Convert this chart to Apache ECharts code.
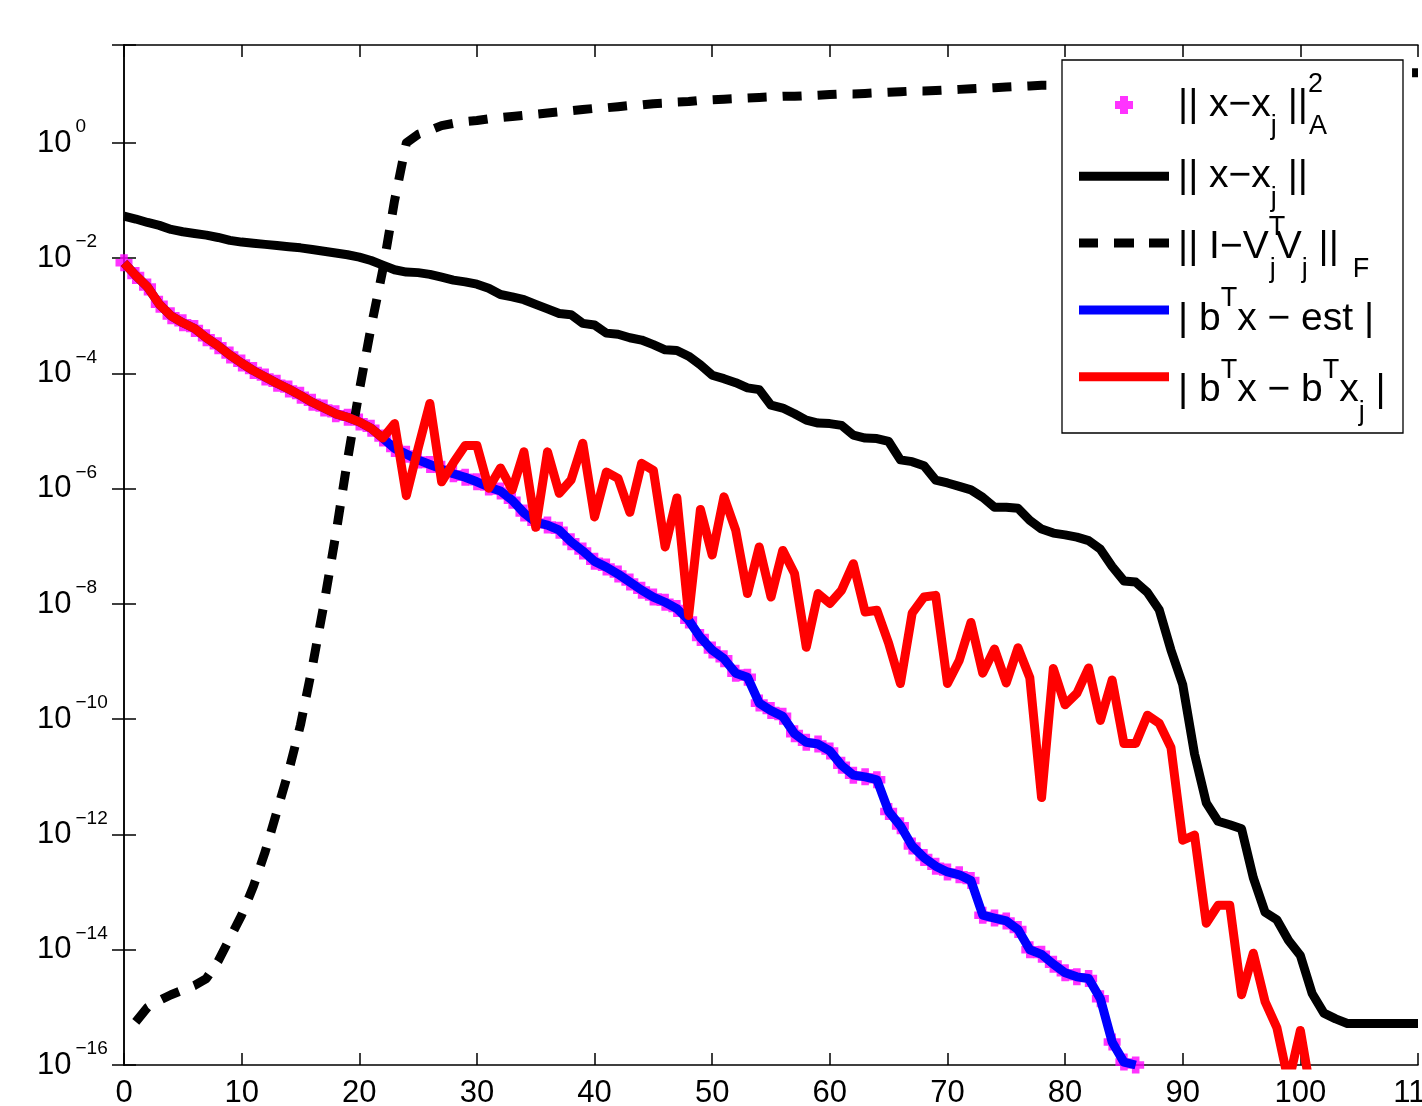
<!DOCTYPE html>
<html><head><meta charset="utf-8">
<script src="https://cdn.jsdelivr.net/npm/echarts@6/dist/echarts.min.js"></script>
<style>html,body{margin:0;padding:0;background:#fff}#c{width:1422px;height:1106px}</style>
</head><body><div id="c"></div>
<script>
// ---- data (log10 of the plotted quantities) ----
// iteration j for each array starts at the given start value
const redStart = 0;   // | b^T x - b^T x_j |
const redLog10 = [-2.08,-2.3,-2.5,-2.8,-3.0,-3.12,-3.22,-3.38,-3.52,-3.68,-3.82,-3.95,-4.06,-4.17,-4.27,-4.38,-4.5,-4.6,-4.7,-4.76,-4.84,-4.95,-5.12,-4.87,-6.12,-5.3,-4.52,-5.88,-5.55,-5.25,-5.25,-5.99,-5.64,-6.02,-5.36,-6.67,-5.36,-6.08,-5.85,-5.21,-6.49,-5.71,-5.82,-6.41,-5.56,-5.68,-7.01,-6.16,-8.2,-6.36,-7.15,-6.14,-6.72,-7.82,-7.01,-7.88,-7.07,-7.47,-8.75,-7.82,-7.99,-7.76,-7.3,-8.14,-8.11,-8.68,-9.38,-8.16,-7.88,-7.85,-9.38,-8.98,-8.32,-9.2,-8.78,-9.37,-8.76,-9.28,-11.36,-9.12,-9.75,-9.55,-9.11,-10.02,-9.32,-10.42,-10.42,-9.93,-10.07,-10.49,-12.1,-12.01,-13.54,-13.23,-13.23,-14.78,-14.06,-14.9,-15.35,-16.3,-15.4,-16.6];
const blueStart = 0;  // | b^T x - est |
const blueLog10 = [-2.08,-2.3,-2.5,-2.8,-3.0,-3.12,-3.22,-3.38,-3.52,-3.68,-3.82,-3.95,-4.06,-4.17,-4.27,-4.38,-4.5,-4.6,-4.7,-4.76,-4.84,-4.95,-5.12,-5.3,-5.4,-5.5,-5.58,-5.66,-5.74,-5.8,-5.88,-5.97,-6.04,-6.2,-6.42,-6.58,-6.63,-6.72,-6.92,-7.08,-7.26,-7.36,-7.48,-7.62,-7.76,-7.88,-7.97,-8.08,-8.28,-8.58,-8.8,-8.95,-9.2,-9.27,-9.72,-9.85,-9.95,-10.25,-10.4,-10.43,-10.55,-10.8,-10.97,-11.0,-11.05,-11.6,-11.85,-12.2,-12.4,-12.55,-12.65,-12.7,-12.8,-13.4,-13.45,-13.5,-13.65,-14.0,-14.08,-14.25,-14.4,-14.47,-14.5,-14.85,-15.6,-15.95,-16.0];
const anormStart = 0; // || x - x_j ||_A^2 (markers)
const anormLog10 = [-2.08,-2.3,-2.5,-2.8,-3.0,-3.12,-3.22,-3.38,-3.52,-3.68,-3.82,-3.95,-4.06,-4.17,-4.27,-4.38,-4.5,-4.6,-4.7,-4.76,-4.84,-4.95,-5.12,-5.3,-5.4,-5.5,-5.58,-5.66,-5.74,-5.8,-5.88,-5.97,-6.04,-6.2,-6.42,-6.58,-6.63,-6.72,-6.92,-7.08,-7.26,-7.36,-7.48,-7.62,-7.76,-7.88,-7.97,-8.08,-8.28,-8.58,-8.8,-8.95,-9.2,-9.27,-9.72,-9.85,-9.95,-10.25,-10.4,-10.43,-10.55,-10.8,-10.97,-11.0,-11.05,-11.6,-11.85,-12.2,-12.4,-12.55,-12.65,-12.7,-12.8,-13.4,-13.45,-13.5,-13.65,-14.0,-14.08,-14.25,-14.4,-14.47,-14.5,-14.85,-15.6,-15.95,-16.0];
const errStart = 0;   // || x - x_j ||
const errLog10 = [-1.27,-1.32,-1.38,-1.43,-1.5,-1.54,-1.57,-1.6,-1.64,-1.69,-1.72,-1.74,-1.76,-1.78,-1.8,-1.82,-1.85,-1.88,-1.91,-1.94,-1.98,-2.04,-2.12,-2.2,-2.24,-2.25,-2.28,-2.33,-2.38,-2.41,-2.45,-2.52,-2.63,-2.67,-2.72,-2.8,-2.88,-2.96,-2.98,-3.13,-3.16,-3.3,-3.32,-3.38,-3.42,-3.5,-3.59,-3.6,-3.7,-3.85,-4.03,-4.09,-4.16,-4.25,-4.28,-4.55,-4.6,-4.7,-4.81,-4.86,-4.87,-4.9,-5.07,-5.12,-5.13,-5.18,-5.5,-5.53,-5.6,-5.85,-5.9,-5.96,-6.02,-6.15,-6.32,-6.32,-6.34,-6.55,-6.7,-6.77,-6.8,-6.84,-6.9,-7.05,-7.35,-7.6,-7.62,-7.8,-8.1,-8.8,-9.4,-10.6,-11.45,-11.77,-11.83,-11.9,-12.75,-13.35,-13.48,-13.84,-14.1,-14.76,-15.1,-15.2,-15.28,-15.28,-15.28,-15.28,-15.28,-15.28,-15.28];
const orthStart = 1;  // || I - V_j^T V_j ||_F
const orthLog10 = [-15.25,-15.0,-14.88,-14.78,-14.7,-14.62,-14.5,-14.2,-13.8,-13.4,-12.9,-12.3,-11.6,-10.9,-10.1,-9.1,-8.0,-6.8,-5.5,-4.3,-3.2,-2.2,-1.0,0.0,0.15,0.22,0.3,0.34,0.37,0.39,0.42,0.44,0.46,0.48,0.5,0.52,0.54,0.56,0.58,0.6,0.61,0.63,0.65,0.66,0.68,0.69,0.71,0.72,0.74,0.75,0.76,0.77,0.78,0.79,0.8,0.81,0.81,0.82,0.83,0.84,0.85,0.85,0.86,0.87,0.88,0.89,0.9,0.9,0.91,0.92,0.93,0.94,0.95,0.96,0.97,0.98,0.99,1.0,1.0,1.01,1.02,1.03,1.04,1.05,1.06,1.06,1.07,1.08,1.09,1.1,1.1,1.11,1.12,1.13,1.13,1.14,1.15,1.15,1.16,1.17,1.17,1.18,1.18,1.19,1.2,1.2,1.21,1.21,1.22,1.22];

const seriesNames = ['|| x\u2212x_j ||_A^2', '|| x\u2212x_j ||', '|| I\u2212V_j^T V_j ||_F', '| b^T x \u2212 est |', '| b^T x \u2212 b^T x_j |'];
const seriesColors = ['#ff00ff', '#000000', '#000000', '#0000ff', '#ff0000'];
// rich-text forms of the legend labels (same order as seriesNames)
const legendRich = [
  '{m||| x\u2212x}{sb|j}{m| ||}{spw|2}{sb|A}',
  '{m||| x\u2212x}{sb|j}{m| ||}',
  '{m||| I\u2212V}{spw|T}{sb|j}{m|V}{sb|j}{m| ||}{sbF|F}',
  '{m|| b}{sp|T}{m|x \u2212 est |}',
  '{m|| b}{sp|T}{m|x \u2212 b}{sp|T}{m|x}{sb|j}{m| |}'
];
const yTickExponents = [-16,-14,-12,-10,-8,-6,-4,-2,0];
const xRange = [0, 110];
const xTickStep = 10;
const yRange = [1e-16, Math.pow(10, 1.7)];

// ---- helpers ----
function toPairs(start, logs) { return logs.map((v, i) => [start + i, Math.pow(10, v)]); }

const FONT = 'Liberation Sans';
const plusPath = 'path://M5,0h8v5h5v8h-5v5h-8v-5h-5v-8h5z';
const solidIcon = 'path://M0,0h90v9h-90z';
const dashIcon = 'path://M0,0h19v9h-19zM35,0h20v9h-20zM70,0h20v9h-20z';
const legendIcons = [plusPath, solidIcon, dashIcon, solidIcon, solidIcon];

// legend geometry
const LEG = {boxX: 1062, boxY: 60, boxW: 341, boxH: 373, iconX: 1079, firstRowY: 105, rowStep: 71.3, textX: 1178};

const richStyles = {
  m: {fontFamily: FONT, fontSize: 39, lineHeight: 71, verticalAlign: 'middle', fill: '#000'},
  sb: {fontFamily: FONT, fontSize: 27, verticalAlign: 'bottom', fill: '#000'},
  sbF: {fontFamily: FONT, fontSize: 27, verticalAlign: 'bottom', padding: [0, 0, 0, 14], fill: '#000'},
  sp: {fontFamily: FONT, fontSize: 27, verticalAlign: 'top', padding: [2, 0, 0, 0], fill: '#000'},
  spw: {fontFamily: FONT, fontSize: 27, verticalAlign: 'top', padding: [2, 0, 0, 0], width: 1, fill: '#000'}
};

const graphicEls = [{
  type: 'rect', z: 8, silent: true,
  shape: {x: LEG.boxX, y: LEG.boxY, width: LEG.boxW, height: LEG.boxH},
  style: {fill: '#fff', stroke: '#000', lineWidth: 1.3}
}];
legendRich.forEach(function (txt, i) {
  graphicEls.push({
    type: 'text', z: 9, silent: true,
    x: LEG.textX, y: LEG.firstRowY + i * LEG.rowStep,
    style: {text: txt, rich: richStyles, fontFamily: FONT, fontSize: 39, fill: '#000', align: 'left', verticalAlign: 'middle'}
  });
});

const chart = echarts.init(document.getElementById('c'), null, {renderer: 'canvas'});

const axisLineStyle = {color: '#000', width: 1.5};
const option = {
  animation: false,
  backgroundColor: '#fff',
  grid: {left: 124, right: 4, top: 45, bottom: 41, containLabel: false, outerBoundsMode: 'none'},
  xAxis: [
    {type: 'value', min: xRange[0], max: xRange[1], interval: xTickStep, position: 'bottom',
     axisLine: {show: true, lineStyle: axisLineStyle},
     axisTick: {show: true, inside: true, length: 12, lineStyle: axisLineStyle},
     axisLabel: {show: true, color: '#000', fontFamily: FONT, fontSize: 31, margin: 13, hideOverlap: false},
     splitLine: {show: false}},
    {type: 'value', min: xRange[0], max: xRange[1], interval: xTickStep, position: 'top',
     axisLine: {show: true, lineStyle: axisLineStyle},
     axisTick: {show: true, inside: true, length: 12, lineStyle: axisLineStyle},
     axisLabel: {show: false}, splitLine: {show: false}}
  ],
  yAxis: [
    {type: 'log', logBase: 100, min: yRange[0], max: yRange[1], position: 'left',
     axisLine: {show: true, lineStyle: axisLineStyle},
     axisTick: {show: true, inside: true, length: 12, lineStyle: axisLineStyle},
     minorTick: {show: false}, splitLine: {show: false},
     axisLabel: {
       show: true, align: 'left', margin: 87, color: '#000', fontFamily: FONT,
       formatter: function (v) {
         const e = Math.log10(v), r = Math.round(e);
         if (Math.abs(e - r) > 1e-6 || yTickExponents.indexOf(r) < 0) return '';
         return '{b|10}{e|' + (r < 0 ? '\u2212' + (-r) : String(r)) + '}';
       },
       rich: {
         b: {fontFamily: FONT, fontSize: 31, lineHeight: 51, verticalAlign: 'middle', color: '#000'},
         e: {fontFamily: FONT, fontSize: 19, verticalAlign: 'top', padding: [0, 0, 0, 4], color: '#000'}
       }
     }},
    {type: 'log', logBase: 100, min: yRange[0], max: yRange[1], position: 'right',
     axisLine: {show: true, lineStyle: axisLineStyle},
     axisTick: {show: true, inside: true, length: 12, lineStyle: axisLineStyle},
     axisLabel: {show: false}, splitLine: {show: false}, minorTick: {show: false}}
  ],
  graphic: graphicEls,
  legend: {
    orient: 'vertical', left: LEG.iconX, top: LEG.firstRowY - 9, z: 10,
    padding: 0, itemWidth: 90, itemHeight: 18, itemGap: LEG.rowStep - 18,
    selectedMode: false, symbolKeepAspect: true,
    itemStyle: {borderWidth: 0},
    formatter: function () { return ''; },
    textStyle: {fontSize: 1, color: '#000'},
    data: seriesNames.map(function (n, i) {
      return {name: n, icon: legendIcons[i], itemStyle: {color: seriesColors[i], borderWidth: 0}, symbolKeepAspect: true};
    })
  },
  series: [
    {name: seriesNames[0], type: 'scatter', z: 2, symbol: plusPath, symbolSize: 17,
     itemStyle: {color: seriesColors[0]}, data: toPairs(anormStart, anormLog10), clip: true},
    {name: seriesNames[1], type: 'line', z: 3, symbol: 'none', showSymbol: false, clip: true,
     lineStyle: {color: seriesColors[1], width: 9, join: 'round'}, itemStyle: {color: seriesColors[1]},
     data: toPairs(errStart, errLog10)},
    {name: seriesNames[2], type: 'line', z: 4, symbol: 'none', showSymbol: false, clip: true,
     lineStyle: {color: seriesColors[2], width: 9, type: [19, 16], cap: 'butt', join: 'round'}, itemStyle: {color: seriesColors[2]},
     data: toPairs(orthStart, orthLog10)},
    {name: seriesNames[3], type: 'line', z: 5, symbol: 'none', showSymbol: false, clip: true,
     lineStyle: {color: seriesColors[3], width: 9, join: 'round'}, itemStyle: {color: seriesColors[3]},
     data: toPairs(blueStart, blueLog10)},
    {name: seriesNames[4], type: 'line', z: 6, symbol: 'none', showSymbol: false, clip: true,
     lineStyle: {color: seriesColors[4], width: 9, join: 'round'}, itemStyle: {color: seriesColors[4]},
     data: toPairs(redStart, redLog10)}
  ]
};
chart.setOption(option);
</script></body></html>
